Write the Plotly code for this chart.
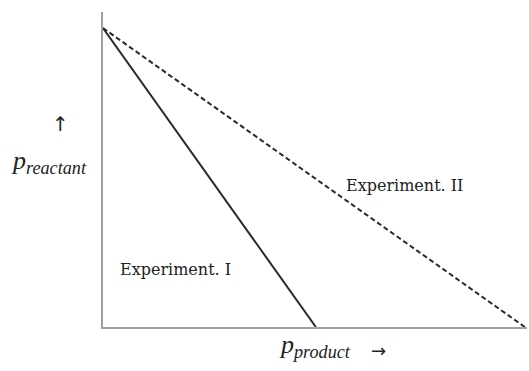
import plotly.graph_objects as go

# two experiments: straight lines from a common start on the reactant axis
exp_names = ["Experiment. I", "Experiment. II"]
p_product = [[0, 0.502], [0, 0.995]]
p_reactant = [[0.949, 0], [0.949, 0]]
dashes = ["solid", "5px,3px"]
label_x = [0.035, 0.568]
label_y = [0.181, 0.448]

serif = "DejaVu Serif"
times = "Liberation Serif"

fig = go.Figure()
for i in range(2):
    fig.add_trace(go.Scatter(x=p_product[i], y=p_reactant[i], mode="lines",
                             line=dict(color="#2a2a2a", width=2, dash=dashes[i]),
                             showlegend=False))
    fig.add_annotation(x=label_x[i], y=label_y[i], text=exp_names[i], showarrow=False,
                       xanchor="left", yanchor="middle",
                       font=dict(family=serif, size=16, color="#222"))

# axis titles drawn as annotations
fig.add_annotation(xref="paper", yref="paper", x=-0.125, y=0.645, text="↑", showarrow=False,
                   font=dict(family="DejaVu Sans", size=20, color="#222"))
fig.add_annotation(xref="paper", yref="paper", x=-0.222, y=0.525, showarrow=False,
                   text="<i>p</i><sub><i>reactant</i></sub>", xanchor="left",
                   font=dict(family=times, size=26, color="#222"))
fig.add_annotation(xref="paper", yref="paper", x=0.41, y=-0.118, showarrow=False,
                   text="<i>p</i><sub><i>product</i></sub>", xanchor="left",
                   font=dict(family=times, size=26, color="#222"))
fig.add_annotation(xref="paper", yref="paper", x=0.649, y=-0.113, text="→", showarrow=False,
                   font=dict(family="DejaVu Sans", size=18, color="#222"))

fig.update_xaxes(range=[0, 1], showgrid=False, zeroline=False, showticklabels=False,
                 showline=True, linecolor="#a0a0a0", linewidth=2, ticks="")
fig.update_yaxes(range=[0, 1], showgrid=False, zeroline=False, showticklabels=False,
                 showline=True, linecolor="#a0a0a0", linewidth=2, ticks="")
fig.update_layout(width=529, height=371, plot_bgcolor="white", paper_bgcolor="white",
                  margin=dict(l=103, r=2, t=12, b=44))

fig.write_html("out.html", config={"displayModeBar": False},
               post_script="document.body.style.margin='0';document.body.style.overflow='hidden';")
